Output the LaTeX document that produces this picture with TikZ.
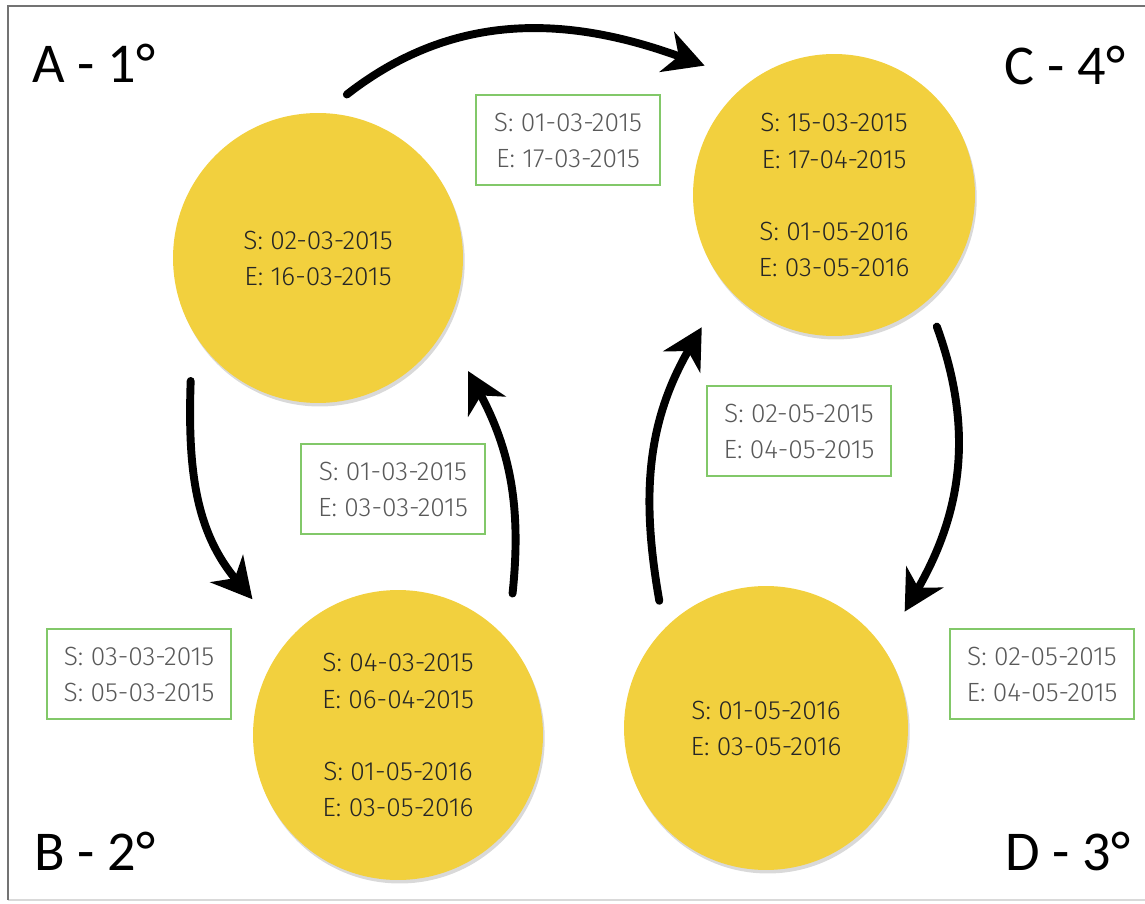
\documentclass[tikz,border=0pt]{standalone}
\usepackage{fontspec}
\newfontfamily\datefont{Fira Sans Light}
\newfontfamily\cornerfont{Carlito}
\usetikzlibrary{arrows.meta,calc,shadows}
\definecolor{sun}{RGB}{242,208,62}
\definecolor{leaf}{RGB}{130,200,105}
\definecolor{ink}{RGB}{38,38,38}
\tikzset{
state/.style={circle,fill=sun,minimum size=5.8cm,inner sep=0pt,align=center,text=ink,
font=\datefont\fontsize{15}{20.5}\selectfont,
drop shadow={opacity=0.3,shadow xshift=1pt,shadow yshift=-2pt}},
datebox/.style={draw=leaf,line width=0.8pt,minimum width=3.68cm,minimum height=1.8cm,
align=center,text=black!65,font=\datefont\fontsize{15}{20.5}\selectfont},
corner/.style={font=\cornerfont\fontsize{32}{36}\selectfont},
brush/.style={-{Stealth[length=0.8cm,width=0.85cm,inset=0.25cm]},line width=4.5pt,
line cap=round}
}

\begin{document}
\begin{tikzpicture}[x=0.02cm,y=0.02cm]
\useasboundingbox (0,0) rectangle (1145,903);
\draw[black!15,line width=0.8pt] (8,3) -- (1150,3);
\draw[black!55,line width=1.5pt] (8,3) -- (8,897) -- (1150,897);

\node[state] (A) at (318,645) {S: 02-03-2015\\E: 16-03-2015};
\node[state,minimum size=5.64cm] (C) at (834,708) {S: 15-03-2015\\E: 17-04-2015\\[20.5pt]S: 01-05-2016\\E: 03-05-2016};
\node[state] (B) at (398,168) {S: 04-03-2015\\E: 06-04-2015\\[20.5pt]S: 01-05-2016\\E: 03-05-2016};
\node[state,minimum size=5.68cm] (D) at (766,175) {S: 01-05-2016\\E: 03-05-2016};

\node[corner] (labA) at (94,840) {A - 1°};
\node[corner] (labC) at (1065,838) {C - 4°};
\node[corner] (labB) at (95,52) {B - 2°};
\node[corner] (labD) at (1068,52) {D - 3°};

\node[datebox] (ac) at (568,763) {S: 01-03-2015\\E: 17-03-2015};
\node[datebox] (ba) at (393,414) {S: 01-03-2015\\E: 03-03-2015};
\node[datebox] (ab) at (139,229) {S: 03-03-2015\\S: 05-03-2015};
\node[datebox] (dc) at (799,472) {S: 02-05-2015\\E: 04-05-2015};
\node[datebox] (cd) at (1042,229) {S: 02-05-2015\\E: 04-05-2015};

\draw[brush] ($(A)+(80:166)$) to[out=38,in=160] ($(C)+(135:183)$);
\draw[brush] ($(A)+(224:177)$) to[out=-92,in=130] ($(B)+(137:199)$);
\draw[brush] ($(B)+(51:182)$) to[out=84,in=-62] ($(A)+(-37:188)$);
\draw[brush] ($(D)+(130:166)$) to[out=100,in=-120] ($(C)+(225:187)$);
\draw[brush] ($(C)+(-52:167)$) to[out=-70,in=60] ($(D)+(40:181)$);
\end{tikzpicture}
\end{document}
